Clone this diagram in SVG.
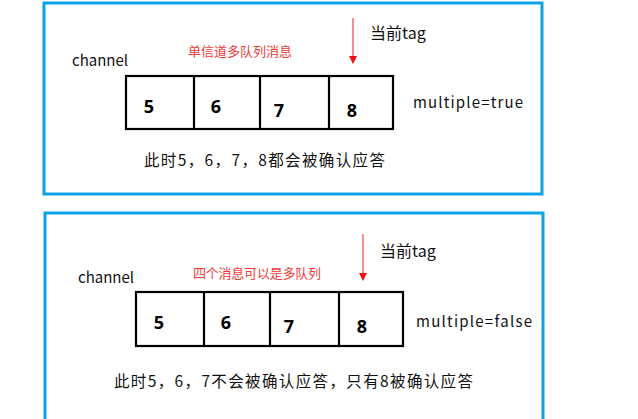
<svg xmlns="http://www.w3.org/2000/svg" width="638" height="419" viewBox="0 0 638 419">
<style>
.panel{fill:#fff;stroke:#0aa3e6;stroke-width:3}
.box{fill:#fff;stroke:#000;stroke-width:2.2}
.t{font-family:"Noto Sans CJK SC","Noto Sans",sans-serif;fill:#111}
.num{font-family:"Noto Sans","Noto Sans CJK SC",sans-serif;font-weight:bold;font-size:18px;fill:#000}
.red{font-family:"Noto Sans CJK SC",sans-serif;fill:#f03a3a}
.arr{stroke:#f05555;stroke-width:1.3;fill:none}
</style>
<defs>
<marker id="ah" markerWidth="8" markerHeight="8" refX="7" refY="4" orient="auto" markerUnits="userSpaceOnUse">
<path d="M0,0 L8,4 L0,8 Z" fill="#f01010"/>
</marker>
</defs>
<rect width="638" height="419" fill="#fff"/>
<g id="panel-top">
<rect class="panel" x="44" y="3" width="498" height="191"/>
<g id="queue-top">
<rect class="box" x="126" y="76" width="267" height="53"/>
<line class="box" x1="194" y1="76" x2="194" y2="129"/>
<line class="box" x1="260" y1="76" x2="260" y2="129"/>
<line class="box" x1="329" y1="76" x2="329" y2="129"/>
<text class="num" x="149" y="113" text-anchor="middle">5</text>
<text class="num" x="216" y="113" text-anchor="middle">6</text>
<text class="num" x="279" y="117" text-anchor="middle">7</text>
<text class="num" x="352" y="117" text-anchor="middle">8</text>
</g>
<text class="t" x="72" y="66" font-size="15">channel</text>
<text class="red" x="188" y="56" font-size="13" textLength="104">单信道多队列消息</text>
<text class="t" x="370" y="39" font-size="16">当前tag</text>
<text class="t" x="413" y="108" font-size="15" textLength="110">multiple=true</text>
<text class="t" x="144" y="166" font-size="15.5" textLength="241">此时5，6，7，8都会被确认应答</text>
</g>
<g id="panel-bottom">
<path class="panel" d="M45,421 L45,213 L543,213 L543,421"/>
<g id="queue-bottom">
<rect class="box" x="136" y="292" width="267" height="54"/>
<line class="box" x1="204" y1="292" x2="204" y2="346"/>
<line class="box" x1="270" y1="292" x2="270" y2="346"/>
<line class="box" x1="339" y1="292" x2="339" y2="346"/>
<text class="num" x="159" y="329" text-anchor="middle">5</text>
<text class="num" x="226" y="329" text-anchor="middle">6</text>
<text class="num" x="289" y="333" text-anchor="middle">7</text>
<text class="num" x="362" y="333" text-anchor="middle">8</text>
</g>
<text class="t" x="78" y="283" font-size="15">channel</text>
<text class="red" x="193" y="278" font-size="13" textLength="128">四个消息可以是多队列</text>
<text class="t" x="380" y="257" font-size="16">当前tag</text>
<text class="t" x="416" y="327" font-size="15" textLength="116">multiple=false</text>
<text class="t" x="114" y="387" font-size="15.5" textLength="359">此时5，6，7不会被确认应答，只有8被确认应答</text>
</g>
<g id="connectors">
<line class="arr" x1="353" y1="18" x2="353" y2="63" marker-end="url(#ah)"/>
<line class="arr" x1="363" y1="234" x2="363" y2="280" marker-end="url(#ah)"/>
</g>
</svg>
